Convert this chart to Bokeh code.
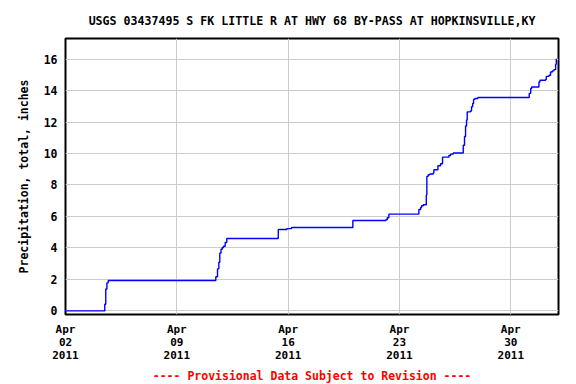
import pandas as pd
from bokeh.plotting import figure
from bokeh.models import FixedTicker, Title, Range1d
from bokeh.embed import file_html
from bokeh.resources import INLINE

# Cumulative precipitation readings (time, inches)
times = [
    "2011-04-02 00:00", "2011-04-04 11:15", "2011-04-04 12:45", "2011-04-04 14:30",
    "2011-04-04 16:30", "2011-04-11 10:50", "2011-04-11 13:25", "2011-04-11 15:25",
    "2011-04-11 16:50", "2011-04-11 18:40", "2011-04-11 20:35", "2011-04-11 22:30",
    "2011-04-12 01:00", "2011-04-12 03:25", "2011-04-15 09:05", "2011-04-15 22:05",
    "2011-04-16 05:05", "2011-04-20 01:40", "2011-04-22 03:25", "2011-04-22 05:30",
    "2011-04-22 08:00", "2011-04-24 05:15", "2011-04-24 07:55", "2011-04-24 09:20",
    "2011-04-24 12:00", "2011-04-24 16:30", "2011-04-24 17:20", "2011-04-24 19:25",
    "2011-04-24 21:50", "2011-04-25 03:00", "2011-04-25 03:55", "2011-04-25 10:00",
    "2011-04-25 14:00", "2011-04-25 17:00", "2011-04-26 02:35", "2011-04-26 05:05",
    "2011-04-26 09:10", "2011-04-27 00:15", "2011-04-27 02:10", "2011-04-27 03:45",
    "2011-04-27 05:15", "2011-04-27 06:15", "2011-04-27 11:15", "2011-04-27 12:45",
    "2011-04-27 14:25", "2011-04-27 15:50", "2011-04-27 17:50", "2011-04-27 22:20",
    "2011-05-01 03:50", "2011-05-01 06:00", "2011-05-01 07:25", "2011-05-01 18:30",
    "2011-05-01 20:00", "2011-05-02 04:35", "2011-05-02 05:35", "2011-05-02 09:35",
    "2011-05-02 12:00", "2011-05-02 14:40", "2011-05-02 17:05", "2011-05-02 19:40",
    "2011-05-02 20:40",
]
precip = [
    0.00, 0.42, 1.39, 1.78,
    1.93, 2.17, 2.67, 3.09,
    3.67, 3.92, 4.03, 4.11,
    4.35, 4.60, 5.17, 5.23,
    5.30, 5.74, 5.79, 5.92,
    6.15, 6.44, 6.57, 6.68,
    6.74, 7.37, 8.55, 8.65,
    8.70, 8.76, 8.97, 9.22,
    9.35, 9.77, 9.87, 9.96,
    10.03, 10.53, 11.08, 11.75,
    12.13, 12.65, 12.70, 12.97,
    13.18, 13.44, 13.50, 13.56,
    13.82, 14.13, 14.23, 14.55,
    14.66, 14.70, 14.90, 14.97,
    15.18, 15.25, 15.33, 15.67,
    16.03,
]
x_tick_dates = ["2011-04-02", "2011-04-09", "2011-04-16", "2011-04-23", "2011-04-30"]
x_tick_labels = ["Apr\n02\n2011", "Apr\n09\n2011", "Apr\n16\n2011", "Apr\n23\n2011", "Apr\n30\n2011"]
y_ticks = [0, 2, 4, 6, 8, 10, 12, 14, 16]

title_text = "USGS 03437495 S FK LITTLE R AT HWY 68 BY-PASS AT HOPKINSVILLE,KY"
y_label = "Precipitation, total, inches"
note_text = "---- Provisional Data Subject to Revision ----"

FONT = "DejaVu Sans Mono"

t = pd.to_datetime(times)
p = figure(
    width=576, height=384,
    x_axis_type="datetime",
    x_range=Range1d(pd.Timestamp("2011-04-02"), pd.Timestamp("2011-05-03")),
    y_range=Range1d(-0.23, 17.31),
    output_backend="svg", toolbar_location=None,
    min_border_left=65, min_border_right=18, min_border_top=38, min_border_bottom=68,
)
p.step(t, precip, mode="after", line_color="#0000ff", line_width=1.4)

tick_ms = [int(pd.Timestamp(d).value // 10**6) for d in x_tick_dates]
p.xaxis.ticker = FixedTicker(ticks=tick_ms)
p.xaxis.major_label_overrides = {k: v for k, v in zip(tick_ms, x_tick_labels)}
p.yaxis.ticker = FixedTicker(ticks=y_ticks)

for ax in (p.xaxis, p.yaxis):
    ax.major_label_text_font = FONT
    ax.major_label_text_font_style = "bold"
    ax.major_label_text_color = "black"
    ax.major_tick_out = 0
    ax.major_tick_in = 0
    ax.minor_tick_out = 0
    ax.minor_tick_in = 0
    ax.axis_line_color = None
p.xaxis.major_label_text_font_size = "11px"
p.xaxis.major_label_text_line_height = 1.0
p.xaxis.major_label_standoff = 8
p.yaxis.major_label_text_font_size = "11.5px"
p.yaxis.major_label_standoff = 8

p.yaxis.axis_label = y_label
p.yaxis.axis_label_text_font = FONT
p.yaxis.axis_label_text_font_style = "bold"
p.yaxis.axis_label_text_font_size = "11.5px"
p.yaxis.axis_label_text_color = "black"
p.yaxis.axis_label_standoff = 10

p.grid.grid_line_color = "#cccccc"
p.grid.grid_line_width = 1
p.outline_line_color = "black"
p.outline_line_width = 2
p.outline_line_alpha = 1.0

p.title.text = title_text
p.title.align = "center"
p.title.text_font = FONT
p.title.text_font_style = "bold"
p.title.text_font_size = "11.6px"
p.title.text_color = "black"
p.title.standoff = 21

p.add_layout(Title(text=note_text, align="center", text_color="red", text_font=FONT,
                   text_font_style="bold", text_font_size="11.5px", standoff=4), "below")

open("out.html", "w").write(file_html(p, INLINE))
